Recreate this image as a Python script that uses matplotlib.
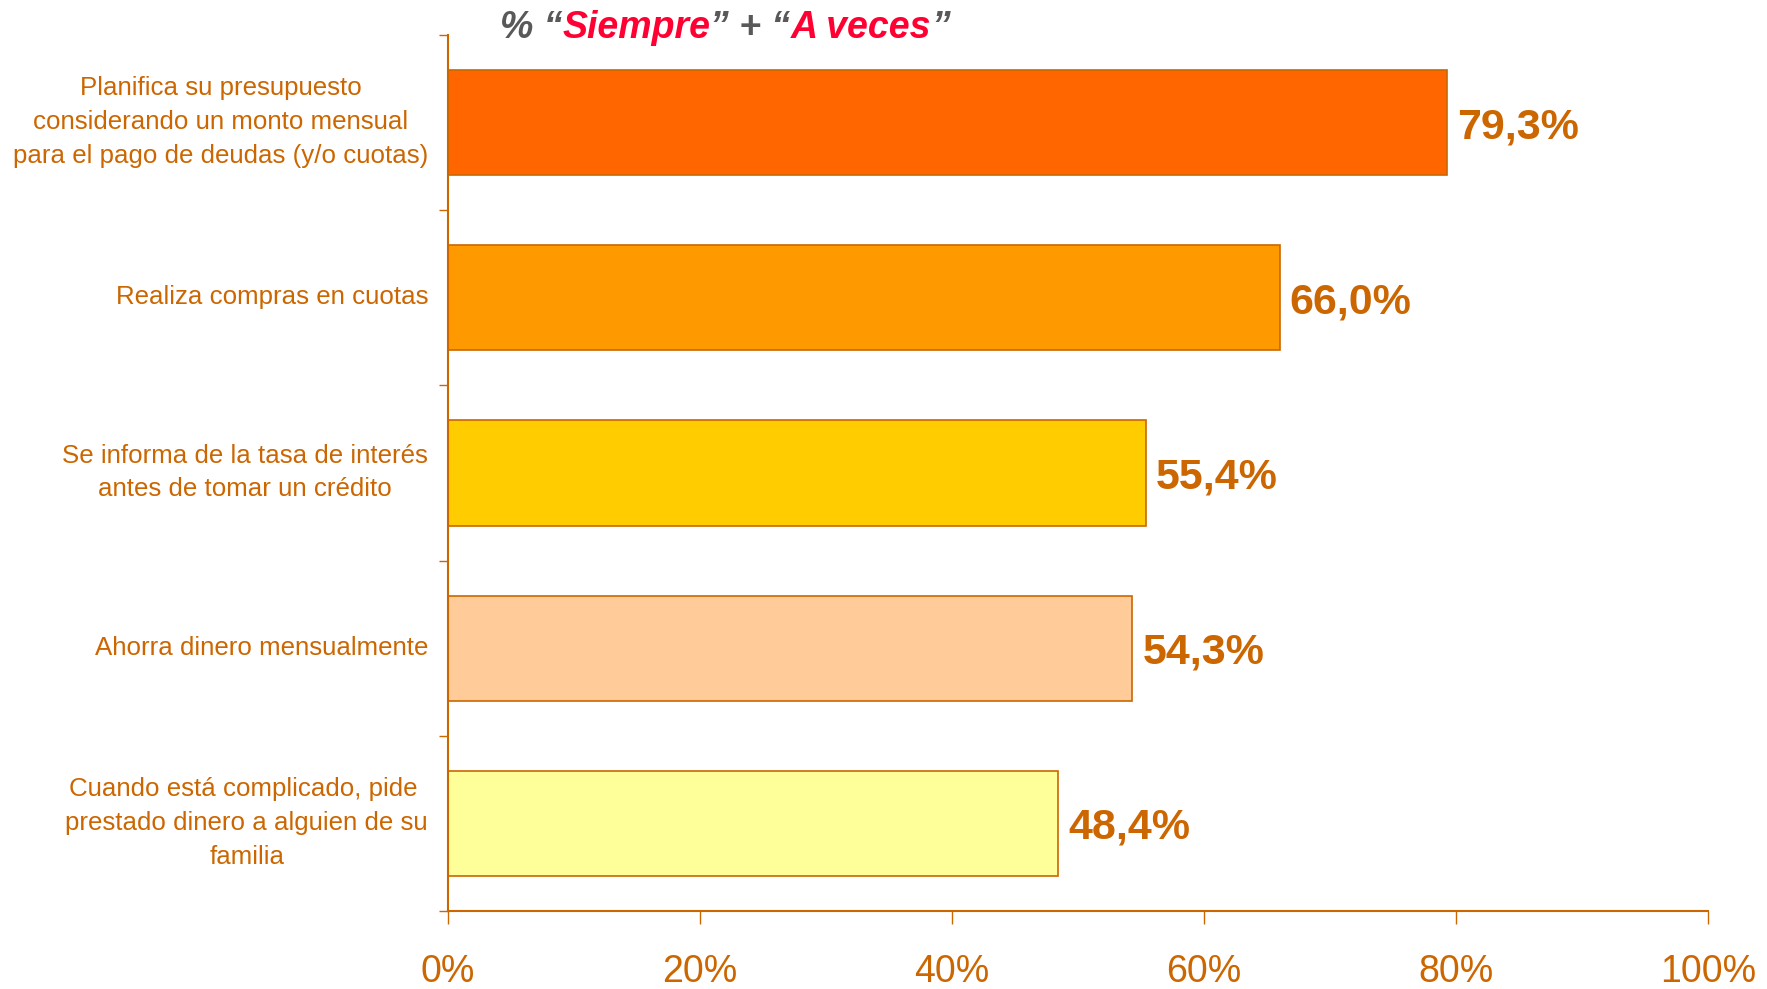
import matplotlib
matplotlib.use("Agg")
import matplotlib.pyplot as plt
import matplotlib.transforms as mtransforms
import numpy as np

categories = [
    "Planifica su presupuesto\nconsiderando un monto mensual\npara el pago de deudas (y/o cuotas)",
    "Realiza compras en cuotas",
    "Se informa de la tasa de interés\nantes de tomar un crédito",
    "Ahorra dinero mensualmente",
    "Cuando está complicado, pide \nprestado dinero a alguien de su\nfamilia",
]
values = [79.3, 66.0, 55.4, 54.3, 48.4]
value_labels = ["79,3%", "66,0%", "55,4%", "54,3%", "48,4%"]
bar_colors = ["#FF6600", "#FF9900", "#FFCC00", "#FFCC99", "#FFFF99"]
xticks = [0, 20, 40, 60, 80, 100]
xtick_labels = ["0%", "20%", "40%", "60%", "80%", "100%"]
title_parts = [("% \u201c", "#595959"), ("Siempre", "#FF0033"), ("\u201d + \u201c", "#595959"),
               ("A veces", "#FF0033"), ("\u201d", "#595959")]

plt.rcParams['font.family'] = ['Liberation Sans', 'DejaVu Sans']
orange = "#CC6600"

fig = plt.figure(figsize=(17.67, 9.89), dpi=100)
ax = fig.add_axes([448 / 1767, 78 / 989, 1260 / 1767, 876 / 989])

y = np.arange(len(categories))
ax.barh(y, values, height=0.6, color=bar_colors, edgecolor=orange, linewidth=1.2)

for yi, v, lab in zip(y, values, value_labels):
    ax.text(v + 0.8, yi + 0.088, lab, va='baseline', ha='left', fontsize=31, fontweight='bold', color=orange)

ax.set_xlim(0, 100)
ax.set_ylim(4.5, -0.5)

ax.set_xticks(xticks)
ax.set_xticklabels(xtick_labels, fontsize=27, color=orange)
ax.tick_params(axis='x', direction='out', length=9, width=1, color=orange, pad=22)

# category labels as texts, right aligned 20 px left of the axis
ax.set_yticks([])
lab_trans = ax.get_yaxis_transform() + mtransforms.ScaledTranslation(-0.20, 0.005, fig.dpi_scale_trans)
for yi, cat in zip(y, categories):
    ax.text(0, yi, cat, transform=lab_trans, ha='right', va='center', multialignment='center',
            fontsize=18.6, linespacing=1.52, color=orange)
ax.set_yticks(np.arange(-0.5, len(categories), 1.0), minor=True)
ax.tick_params(axis='y', which='minor', direction='out', length=6.5, width=1, color=orange)

ax.spines['top'].set_visible(False)
ax.spines['right'].set_visible(False)
for s in ['left', 'bottom']:
    ax.spines[s].set_color(orange)
    ax.spines[s].set_linewidth(1.5)

# title built from coloured pieces
renderer = fig.canvas.get_renderer()
x0 = 500 / 1767
for txt, col in title_parts:
    t = fig.text(x0, 1 - 38 / 989, txt, fontsize=27, fontweight='bold', fontstyle='italic',
                 color=col, ha='left', va='baseline')
    bb = t.get_window_extent(renderer=renderer)
    x0 = bb.x1 / fig.bbox.width

plt.savefig("out.png", dpi=100)
plt.close()
